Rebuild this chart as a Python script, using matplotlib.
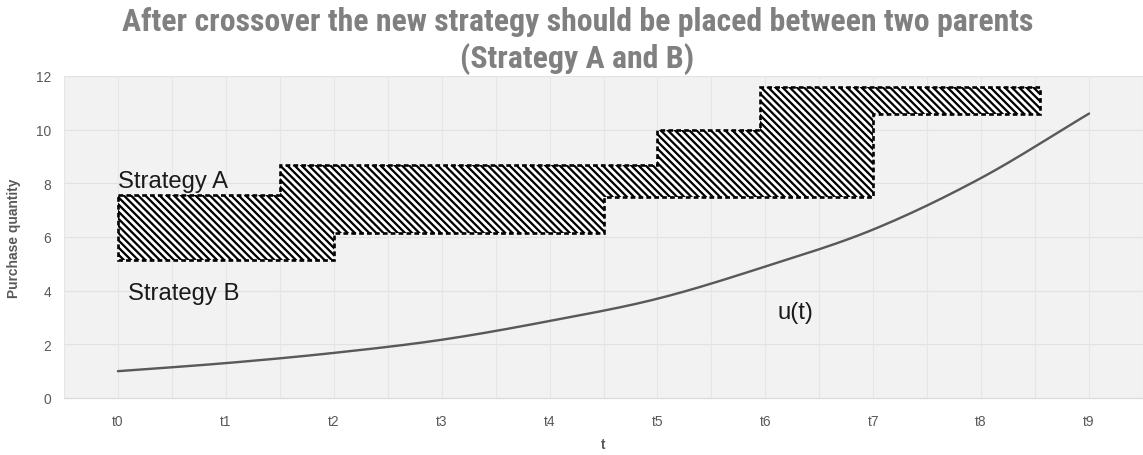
import numpy as np
import matplotlib
matplotlib.use("Agg")
import matplotlib.pyplot as plt
from matplotlib import font_manager
from matplotlib.patches import Polygon

# ---- data ----
periods = ["t0", "t1", "t2", "t3", "t4", "t5", "t6", "t7", "t8", "t9"]
u_values = [1.0, 1.3, 1.68, 2.17, 2.87, 3.7, 4.9, 6.28, 8.2, 10.6]

# Strategy A (upper step profile): change points and levels
a_edges = [0, 1.5, 5.0, 5.95, 8.55]
a_levels = [7.55, 8.7, 10.0, 11.6]
# Strategy B (lower step profile)
b_edges = [0, 2.0, 4.5, 7.0, 8.55]
b_levels = [5.15, 6.15, 7.5, 10.6]

yticks = [0, 2, 4, 6, 8, 10, 12]

title_text = ("After crossover the new strategy should be placed between two parents\n"
              "(Strategy A and B)")

DPI = 86
W, H = 1143, 456
plt.rcParams["hatch.linewidth"] = 1.9
plt.rcParams["font.family"] = ["Liberation Sans", "DejaVu Sans"]

fig = plt.figure(figsize=(W / DPI, H / DPI), dpi=DPI)
ax = fig.add_axes([64 / W, (H - 399) / H, (W - 64) / W, (399 - 77) / H])

x = np.arange(len(periods))
ax.set_xlim(-0.5, len(periods) - 0.5)
ax.set_ylim(0, 12)
ax.set_facecolor("#f2f2f2")

# gridlines
for yv in yticks[1:]:
    ax.axhline(yv, color="#e2e2e2", lw=1.0, zorder=1)
for xv in np.arange(-0.5, len(periods), 0.5):
    ax.axvline(xv, color="#e6e6e6", lw=0.9, zorder=1)


def step_value(edges, levels, xv):
    for i in range(len(levels)):
        if edges[i] <= xv < edges[i + 1]:
            return levels[i]
    return levels[-1]


# band between the two parent strategies
BACKSLASH = chr(92)
xs = sorted(set(a_edges) | set(b_edges))
upper = [step_value(a_edges, a_levels, xv) for xv in xs]
lower = [step_value(b_edges, b_levels, xv) for xv in xs]
ax.fill_between(xs, lower, upper, step="post", facecolor="white",
                edgecolor="black", hatch=BACKSLASH * 4, linewidth=0, zorder=3)

# dashed outline of the band
top = []
for i, lv in enumerate(a_levels):
    top += [(a_edges[i], lv), (a_edges[i + 1], lv)]
bottom = []
for i, lv in enumerate(b_levels):
    bottom += [(b_edges[i], lv), (b_edges[i + 1], lv)]
outline = top + bottom[::-1]
ax.add_patch(Polygon(outline, closed=True, fill=False, edgecolor="black",
                     linewidth=2.2, linestyle=(0, (1.8, 1.2)), zorder=4))


def smooth(xp, yp, n=20):
    # Catmull-Rom spline through the given points
    xp = np.asarray(xp, float)
    yp = np.asarray(yp, float)
    px = np.concatenate([[2 * xp[0] - xp[1]], xp, [2 * xp[-1] - xp[-2]]])
    py = np.concatenate([[2 * yp[0] - yp[1]], yp, [2 * yp[-1] - yp[-2]]])
    ox, oy = [], []
    t = np.linspace(0, 1, n, endpoint=False)
    for i in range(1, len(px) - 2):
        for arr, out in ((px, ox), (py, oy)):
            p0, p1, p2, p3 = arr[i - 1], arr[i], arr[i + 1], arr[i + 2]
            out.extend(0.5 * ((2 * p1) + (-p0 + p2) * t
                              + (2 * p0 - 5 * p1 + 4 * p2 - p3) * t ** 2
                              + (-p0 + 3 * p1 - 3 * p2 + p3) * t ** 3))
    ox.append(xp[-1])
    oy.append(yp[-1])
    return np.array(ox), np.array(oy)


sx, sy = smooth(x, u_values)
ax.plot(sx, sy, color="#595959", lw=2.0, solid_capstyle="round", zorder=5)

# annotations
ax.text(0, 8.1, "Strategy A", fontsize=20, color="#1a1a1a", va="center", ha="left", zorder=6)
ax.text(0.09, 3.9, "Strategy B", fontsize=20, color="#1a1a1a", va="center", ha="left", zorder=6)
ax.text(6.11, 3.2, "u(t)", fontsize=20, color="#1a1a1a", va="center", ha="left", zorder=6)

# axes styling
for side in ("top", "right", "left"):
    ax.spines[side].set_visible(False)
ax.spines["bottom"].set_color("#d9d9d9")
ax.spines["bottom"].set_linewidth(1.0)
ax.set_xticks(x)
ax.set_xticklabels(periods)
ax.set_yticks(yticks)
ax.tick_params(axis="both", length=0, labelsize=11.5, labelcolor="#595959")
ax.tick_params(axis="x", pad=13)
ax.tick_params(axis="y", pad=11)
ax.set_xlabel("t", fontsize=11.5, fontweight="bold", color="#595959", labelpad=8)
ax.set_ylabel("Purchase quantity", fontsize=11.5, fontweight="bold", color="#595959", labelpad=12)

# title in a narrow face when one is available, sized to span the chart
installed = {f.name for f in font_manager.fontManager.ttflist}
narrow = [n for n in ("Liberation Sans Narrow", "DejaVu Sans Condensed", "Roboto Condensed",
                      "Open Sans Condensed", "Noto Sans Condensed") if n in installed]
title_family = narrow[:1] + ["Liberation Sans", "DejaVu Sans"]
title = fig.text(0.505, 0.985, title_text, ha="center", va="top", fontsize=22,
                 fontweight="bold", color="#808080", family=title_family, linespacing=1.25)
renderer = fig.canvas.get_renderer()
first_line = fig.text(0, 0, title_text.split("\n")[0], fontsize=22, fontweight="bold",
                      family=title_family)
width_px = first_line.get_window_extent(renderer).width
first_line.remove()
title.set_fontsize(22 * 910 / width_px)

fig.savefig("out.png", dpi=DPI, facecolor="white")
